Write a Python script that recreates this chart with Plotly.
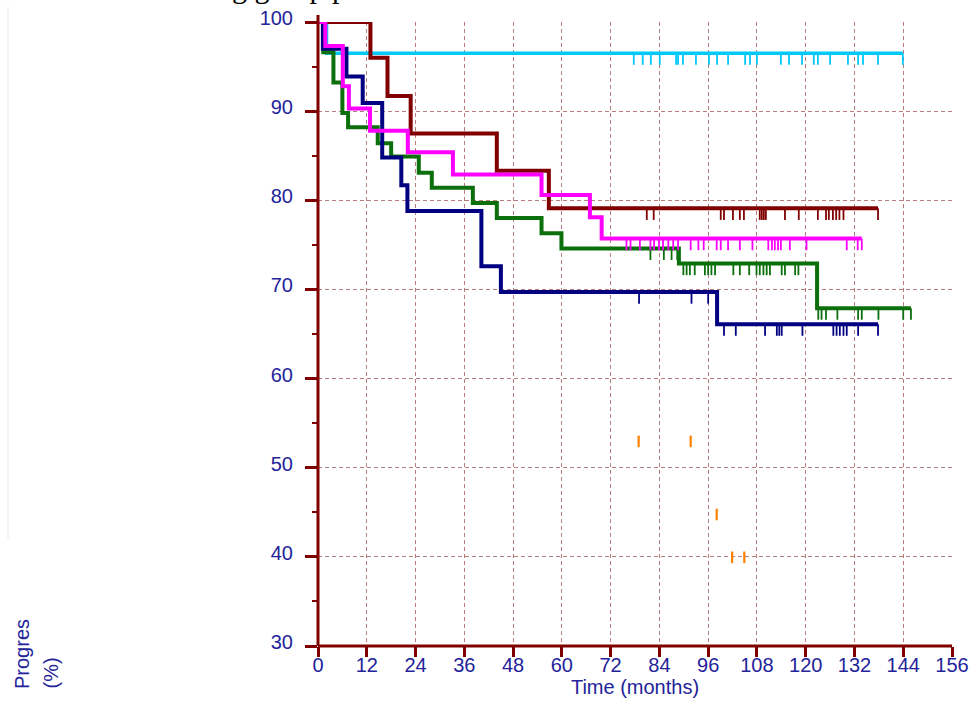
import plotly.graph_objects as go

# ---------------- data ----------------
x_ticks = [0, 12, 24, 36, 48, 60, 72, 84, 96, 108, 120, 132, 144, 156]
y_ticks = [30, 40, 50, 60, 70, 80, 90, 100]

# step curves: time (months) of each step and the survival (%) after the step
maroon_t = [0, 12.9, 17.1, 22.8, 44.0, 56.8, 137.8]
maroon_v = [100, 96.0, 91.7, 87.5, 83.3, 79.1, 79.1]
maroon_cens = [80.9, 82.6, 99.1, 99.9, 102.1, 103.8, 104.8, 108.7, 109.2, 109.7, 110.2,
               114.9, 118.3, 123.0, 125.0, 125.7, 126.7, 127.5, 128.3, 129.3, 137.8]

cyan_t = [0, 2.1, 143.9]
cyan_v = [100, 96.5, 96.5]
cyan_cens = [77.7, 79.9, 81.9, 84.1, 88.1, 88.6, 89.8, 93.0, 96.2, 98.2, 100.9, 105.1,
             106.3, 108.0, 113.9, 115.9, 119.1, 122.0, 123.0, 126.0, 130.4, 132.9,
             134.1, 137.8, 143.9]

magenta_t = [0, 1.8, 6.1, 7.6, 12.8, 22.1, 33.2, 55.0, 66.9, 69.8, 133.8]
magenta_v = [100, 97.3, 92.8, 90.3, 87.8, 85.4, 82.9, 80.6, 78.1, 75.7, 75.7]
magenta_cens = [75.9, 76.9, 79.2, 81.8, 82.7, 83.9, 84.9, 86.2, 87.4, 88.6, 91.7, 93.6,
                94.9, 98.1, 99.1, 100.9, 103.8, 106.9, 110.8, 111.7, 112.4, 113.2,
                113.9, 116.1, 120.2, 130.1, 132.8, 133.8]

green_t = [0, 1.3, 3.8, 6.0, 7.4, 14.7, 18.0, 24.8, 28.0, 38.1, 44.0, 55.0, 59.9,
           88.8, 122.8, 145.9]
green_v = [100, 96.6, 93.2, 89.8, 88.2, 86.4, 84.9, 83.1, 81.4, 79.7, 78.0, 76.3, 74.6,
           72.9, 67.9, 67.9]
green_cens = [81.8, 85.1, 87.0, 88.4, 89.9, 90.7, 91.5, 92.7, 95.2, 96.0, 96.8, 97.7,
              102.2, 103.8, 106.1, 107.9, 108.7, 109.6, 110.4, 111.2, 114.1, 114.9,
              117.4, 118.2, 123.1, 123.9, 125.0, 127.8, 132.9, 133.8, 137.9, 144.0, 145.9]

navy_t = [0, 1.2, 7.0, 11.0, 15.8, 20.5, 22.0, 40.2, 45.0, 98.2, 137.8]
navy_v = [100, 97.0, 93.9, 90.9, 84.8, 81.7, 78.8, 72.6, 69.7, 66.1, 66.1]
navy_cens = [79.0, 91.9, 96.0, 98.1, 99.9, 102.8, 110.0, 112.9, 113.5, 114.1, 119.2,
             126.8, 127.6, 128.4, 129.3, 130.1, 132.9, 137.8]

# isolated censor marks of a group whose curve is not drawn
orange_cens = [78.9, 91.7, 98.1, 101.9, 104.9]
orange_top = [53.6, 53.6, 45.4, 40.6, 40.6]

# ---------------- style ----------------
MAROON = "#800000"
CYAN = "#00c8f8"
MAGENTA = "#ff00ff"
GREEN = "#0b700b"
NAVY = "#000080"
ORANGE = "#ff8000"
TXT = "#23239a"
GRID = "#b97c7c"
FONT = "Liberation Sans, Arial, sans-serif"

W, H = 971, 723
ML, MR, MT, MB = 318, 19, 22, 77
PW, PH = W - ML - MR, H - MT - MB


def step_value(ts, vs, t):
    val = vs[0]
    for ti, vi in zip(ts, vs):
        if ti <= t + 1e-9:
            val = vi
    return val


fig = go.Figure()

# orange isolated ticks
fig.add_trace(go.Scatter(
    x=orange_cens, y=orange_top, mode="markers",
    marker=dict(size=1, color="rgba(0,0,0,0)"),
    error_y=dict(type="data", symmetric=False, array=[0] * len(orange_cens),
                 arrayminus=[1.3] * len(orange_cens), width=0, thickness=2.2,
                 color=ORANGE),
    cliponaxis=False, showlegend=False, hoverinfo="skip"))

series = [
    (cyan_t, cyan_v, cyan_cens, CYAN, 3.5),
    (green_t, green_v, green_cens, GREEN, 4),
    (navy_t, navy_v, navy_cens, NAVY, 4),
    (maroon_t, maroon_v, maroon_cens, MAROON, 4),
    (magenta_t, magenta_v, magenta_cens, MAGENTA, 4),
]

for ts, vs, cens, col, lw in series:
    fig.add_trace(go.Scatter(
        x=ts, y=vs, mode="lines", line=dict(color=col, width=lw, shape="hv"),
        cliponaxis=False, showlegend=False, hoverinfo="skip"))
    cv = [step_value(ts, vs, c) for c in cens]
    fig.add_trace(go.Scatter(
        x=cens, y=cv, mode="markers",
        marker=dict(size=1, color="rgba(0,0,0,0)"),
        error_y=dict(type="data", symmetric=False, array=[0] * len(cens),
                     arrayminus=[1.3] * len(cens), width=0, thickness=1.8, color=col),
        cliponaxis=False, showlegend=False, hoverinfo="skip"))

# axis lines (overshooting slightly like the reference)
fig.add_shape(type="line", xref="paper", yref="paper", x0=0, x1=0, y0=0,
              y1=1 + 7 / PH, line=dict(color=MAROON, width=3), layer="above")
fig.add_shape(type="line", xref="paper", yref="paper", x0=0, x1=1, y0=0, y1=0,
              line=dict(color=MAROON, width=3), layer="above")
# faint frame line at far left
fig.add_shape(type="line", xref="paper", yref="paper",
              x0=(8 - ML) / PW, x1=(8 - ML) / PW,
              y0=(H - MB - 540) / PH, y1=(H - MB - 6) / PH,
              line=dict(color="#ececec", width=1))

# y-axis title (two rotated lines)
fig.add_annotation(text="Progres", xref="paper", yref="paper",
                   x=(22 - ML) / PW, y=(H - MB - 691) / PH, xanchor="center",
                   yanchor="bottom", textangle=-90, showarrow=False,
                   font=dict(family=FONT, size=20, color=TXT))
fig.add_annotation(text="(%)", xref="paper", yref="paper",
                   x=(50 - ML) / PW, y=(H - MB - 691) / PH, xanchor="center",
                   yanchor="bottom", textangle=-90, showarrow=False,
                   font=dict(family=FONT, size=20, color=TXT))
# clipped title at the very top
fig.add_annotation(text="ng group p", xref="paper", yref="paper",
                   x=(215 - ML) / PW, y=(H - MB - 6) / PH, xanchor="left",
                   yanchor="bottom", showarrow=False,
                   font=dict(family="Liberation Serif, Times New Roman, serif",
                             size=30, color="#000000"))

fig.update_layout(
    width=W, height=H, autosize=False,
    margin=dict(l=ML, r=MR, t=MT, b=MB, pad=0, autoexpand=False),
    paper_bgcolor="white", plot_bgcolor="white",
    showlegend=False,
    font=dict(family=FONT, size=20, color=TXT),
    xaxis=dict(
        range=[0, 156], tickmode="array", tickvals=x_ticks,
        ticktext=[str(v) for v in x_ticks],
        ticks="outside", ticklen=10, tickwidth=3, tickcolor=MAROON,
        showline=False, zeroline=False, automargin=False,
        showgrid=True, gridcolor=GRID, gridwidth=1, griddash="4px,3px",
        tickfont=dict(family=FONT, size=20, color=TXT),
        ticklabelstandoff=-9,
        title=dict(text="Time (months)", standoff=2,
                   font=dict(family=FONT, size=20, color=TXT)),
        fixedrange=True,
    ),
    yaxis=dict(
        range=[30, 100], tickmode="array", tickvals=y_ticks,
        ticktext=[str(v) for v in y_ticks],
        ticks="outside", ticklen=12, tickwidth=3, tickcolor=MAROON,
        minor=dict(ticks="outside", ticklen=5, tickwidth=1.5, tickcolor=MAROON,
                   tickvals=[35, 45, 55, 65, 75, 85, 95], showgrid=False),
        showline=False, zeroline=False, automargin=False,
        showgrid=True, gridcolor=GRID, gridwidth=1, griddash="4px,3px",
        tickfont=dict(family=FONT, size=20, color=TXT),
        ticklabelstandoff=8, ticklabelshift=-4,
        fixedrange=True,
    ),
)

fig.write_html("out.html",
               config={"responsive": False, "displayModeBar": False},
               post_script="document.body.style.margin='0';document.body.style.padding='0';document.body.style.overflow='hidden';")
